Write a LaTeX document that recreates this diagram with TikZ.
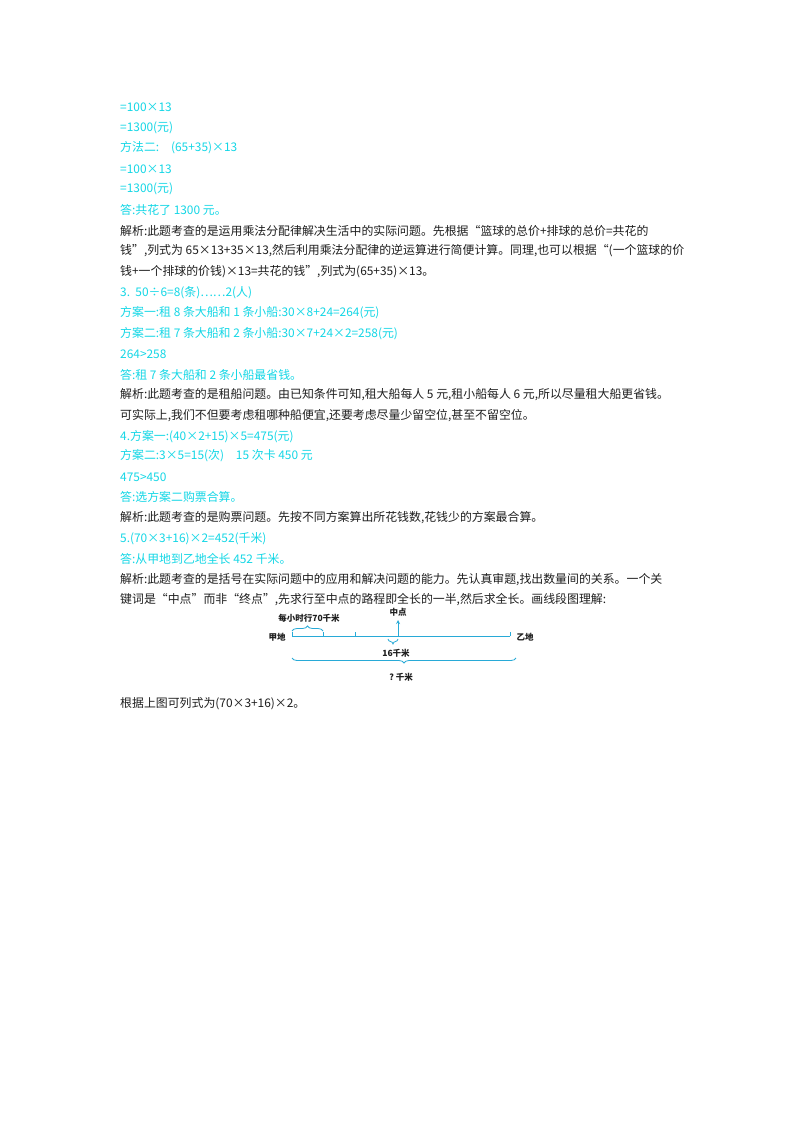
\documentclass[tikz,border=0pt]{standalone}
\usepackage{fontspec}
\setmainfont{Noto Sans CJK SC}
\usetikzlibrary{decorations.pathreplacing}
\definecolor{ans}{RGB}{20,215,230}
\definecolor{ink}{RGB}{30,30,30}
\definecolor{dia}{RGB}{40,170,215}
\begin{document}
\begin{tikzpicture}[x=1pt,y=-1pt,
  a/.style={anchor=west,inner sep=0pt,text=ans,font=\fontsize{11.9}{12}\selectfont},
  t/.style={anchor=west,inner sep=0pt,text=ink,font=\fontsize{11.9}{12}\selectfont},
  lb/.style={inner sep=0pt,text=ink,font=\fontsize{8.5}{9}\selectfont\bfseries},
  ln/.style={dia,line width=0.8pt},
  br/.style={dia,line width=0.8pt,decorate,decoration={brace,amplitude=5pt}}]
\useasboundingbox[fill=white] (0,0) rectangle (800,1132);
\node[a] (l1) at (120,107) {=100×13};
\node[a] (l2) at (120,128) {=1300(元)};
\node[a] (l3) at (120,148) {方法二:\quad (65+35)×13};
\node[a] (l4) at (120,169) {=100×13};
\node[a] (l5) at (120,189) {=1300(元)};
\node[a] (l6) at (120,210) {答:共花了 1300 元。};
\node[t] (l7) at (120,231) {解析:此题考查的是运用乘法分配律解决生活中的实际问题。先根据“篮球的总价+排球的总价=共花的};
\node[t] (l8) at (120,251) {钱”,列式为 65×13+35×13,然后利用乘法分配律的逆运算进行简便计算。同理,也可以根据“(一个篮球的价};
\node[t] (l9) at (120,272) {钱+一个排球的价钱)×13=共花的钱”,列式为(65+35)×13。};
\node[a] (l10) at (120,293) {3.\ \ 50÷6=8(条)……2(人)};
\node[a] (l11) at (120,313) {方案一:租 8 条大船和 1 条小船:30×8+24=264(元)};
\node[a] (l12) at (120,334) {方案二:租 7 条大船和 2 条小船:30×7+24×2=258(元)};
\node[a] (l13) at (120,354) {264>258};
\node[a] (l14) at (120,375) {答:租 7 条大船和 2 条小船最省钱。};
\node[t] (l15) at (120,395) {解析:此题考查的是租船问题。由已知条件可知,租大船每人 5 元,租小船每人 6 元,所以尽量租大船更省钱。};
\node[t] (l16) at (120,416) {可实际上,我们不但要考虑租哪种船便宜,还要考虑尽量少留空位,甚至不留空位。};
\node[a] (l17) at (120,437) {4.方案一:(40×2+15)×5=475(元)};
\node[a] (l18) at (120,456) {方案二:3×5=15(次)\quad 15 次卡 450 元};
\node[a] (l19) at (120,477) {475>450};
\node[a] (l20) at (120,497) {答:选方案二购票合算。};
\node[t] (l21) at (120,518) {解析:此题考查的是购票问题。先按不同方案算出所花钱数,花钱少的方案最合算。};
\node[a] (l22) at (120,539) {5.(70×3+16)×2=452(千米)};
\node[a] (l23) at (120,559) {答:从甲地到乙地全长 452 千米。};
\node[t] (l24) at (120,580) {解析:此题考查的是括号在实际问题中的应用和解决问题的能力。先认真审题,找出数量间的关系。一个关};
\node[t] (l25) at (120,600) {键词是“中点”而非“终点”,先求行至中点的路程即全长的一半,然后求全长。画线段图理解:};
\node[t] (l26) at (120,704) {根据上图可列式为(70×3+16)×2。};
% diagram
\coordinate (A) at (292,636); \coordinate (B) at (510,636);
\coordinate (M) at (398,636);
\draw[ln] (A) -- (B);
\draw[ln] (A) ++(0,-4) -- ++(0,4);
\draw[ln] (B) ++(0,-4) -- ++(0,4);
\draw[ln] (323,632) -- (323,636);
\draw[ln] (355,632) -- (355,636);
\draw[br] (292,631) -- (323,631);
\node[lb] (sp) at (309,618) {每小时行70千米};
\node[lb] (ja) at (277,637) {甲地};
\node[lb] (yd) at (525,637) {乙地};
\draw[ln,-stealth] (M) -- (398,620);
\node[lb] (mid) at (398,612) {中点};
\draw[br] (398,639) -- (388,639);
\node[lb] (s16) at (396,653) {16千米};
\draw[br] (516,658) -- (292,658);
\node[lb] (tot) at (401,677) {?\ 千米};
\end{tikzpicture}
\end{document}
